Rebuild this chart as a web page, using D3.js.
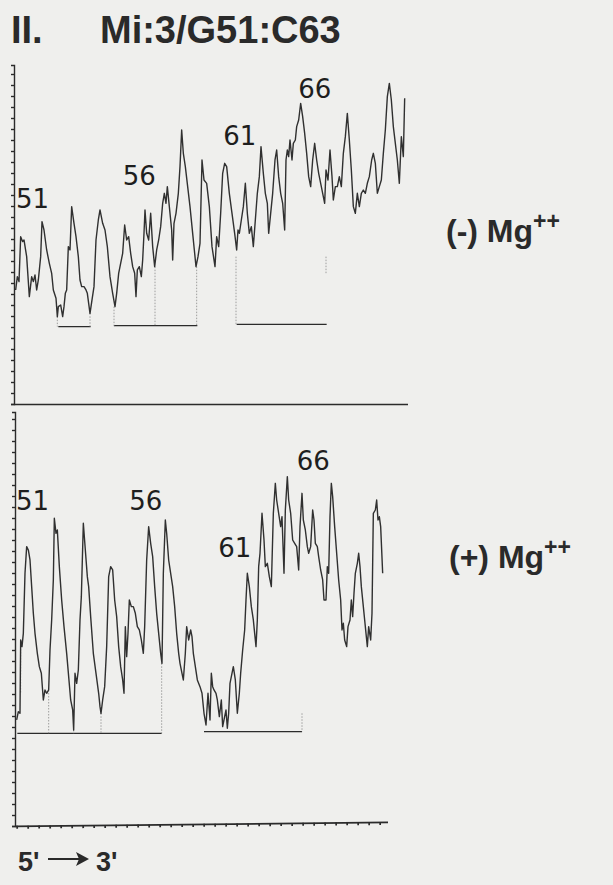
<!DOCTYPE html>
<html>
<head>
<meta charset="utf-8">
<script src="https://cdn.jsdelivr.net/npm/d3@7"></script>
<style>
  html, body { margin: 0; padding: 0; background: #efefed; }
  svg { display: block; }
</style>
</head>
<body>
<div id="chart"></div>
<script>
// densitometer scans, position along the gel (arbitrary units) vs. band density
const minusMg = [[47,310],[52,350],[57,335],[62,470],[68,455],[72,460],[80,410],[88,290],[95,350],[100,335],[105,355],[110,310],[115,340],[122,410],[126,515],[132,490],[140,430],[148,390],[155,360],[160,310],[168,285],[172,230],[175,260],[182,265],[188,230],[192,260],[196,300],[200,310],[205,440],[210,430],[215,560],[222,510],[228,470],[235,410],[240,340],[245,320],[252,320],[258,310],[262,300],[270,240],[276,280],[282,320],[288,460],[295,520],[300,550],[308,510],[315,490],[322,440],[330,350],[338,300],[345,260],[350,300],[356,360],[360,380],[368,420],[374,505],[380,460],[386,470],[392,420],[398,380],[404,360],[408,290],[412,370],[418,380],[424,350],[428,400],[432,480],[435,550],[440,480],[446,460],[452,540],[458,440],[464,380],[470,430],[476,460],[482,500],[488,570],[493,600],[498,570],[502,620],[508,560],[515,490],[518,400],[522,510],[528,540],[535,600],[540,680],[545,790],[550,720],[556,680],[563,620],[570,560],[578,480],[583,430],[588,380],[594,410],[600,450],[606,700],[612,640],[620,630],[628,560],[636,440],[645,380],[650,470],[656,440],[662,540],[668,660],[674,690],[680,680],[688,600],[696,540],[704,480],[710,430],[714,490],[718,480],[724,520],[730,560],[736,630],[742,540],[748,480],[754,500],[760,440],[766,520],[772,600],[778,650],[783,740],[790,660],[796,600],[802,570],[806,480],[812,540],[818,600],[825,700],[830,730],[836,650],[842,600],[848,570],[854,490],[858,700],[862,730],[866,710],[870,760],[876,700],[880,750],[886,760],[890,800],[896,820],[902,870],[908,830],[914,780],[920,720],[926,650],[932,620],[938,700],[944,750],[950,700],[956,660],[962,630],[968,600],[974,570],[978,670],[984,640],[990,730],[996,650],[1000,580],[1006,620],[1012,620],[1018,650],[1024,620],[1030,720],[1036,770],[1042,840],[1048,760],[1054,670],[1060,560],[1066,540],[1072,600],[1078,560],[1084,600],[1090,610],[1096,600],[1102,630],[1108,650],[1115,700],[1120,720],[1126,690],[1132,600],[1138,620],[1144,640],[1150,720],[1156,790],[1162,890],[1168,930],[1174,880],[1180,800],[1186,750],[1192,700],[1198,630],[1204,770],[1210,710],[1214,885]];

const plusMg = [[50,40],[55,65],[60,60],[62,280],[66,260],[70,300],[75,480],[80,560],[85,550],[90,520],[95,440],[100,360],[105,300],[112,240],[118,200],[124,180],[130,100],[135,130],[140,120],[146,130],[150,250],[155,340],[160,460],[163,645],[168,600],[172,610],[178,500],[185,400],[192,320],[200,240],[206,170],[212,100],[218,70],[221,10],[225,180],[230,150],[235,190],[240,340],[244,410],[250,630],[256,550],[262,470],[266,440],[272,350],[280,240],[288,180],[296,120],[300,80],[303,60],[308,100],[314,140],[320,260],[326,470],[332,500],[338,490],[344,400],[350,350],[356,260],[362,200],[368,160],[372,120],[376,320],[380,230],[384,300],[388,400],[394,380],[400,380],[406,360],[412,320],[418,310],[424,280],[430,240],[434,320],[440,520],[446,620],[452,570],[458,530],[464,440],[470,360],[476,300],[482,240],[486,210],[490,480],[496,640],[500,600],[506,520],[512,480],[518,440],[524,380],[530,300],[536,240],[540,210],[546,180],[550,160],[556,240],[560,320],[566,280],[572,310],[576,290],[580,240],[586,200],[592,160],[600,140],[606,120],[612,60],[618,25],[624,120],[630,40],[634,180],[638,140],[642,130],[648,120],[652,100],[658,50],[664,100],[668,20],[672,40],[678,70],[682,15],[686,60],[690,150],[694,170],[700,200],[706,160],[712,60],[718,120],[722,180],[728,250],[734,310],[738,400],[742,480],[748,440],[754,380],[760,340],[764,300],[768,260],[772,340],[776,500],[780,540],[786,660],[792,580],[796,500],[802,510],[808,470],[814,440],[820,660],[826,750],[830,700],[836,660],[842,620],[846,650],[852,480],[856,670],[862,770],[866,700],[872,660],[878,580],[884,570],[890,560],[896,490],[900,620],[906,720],[910,640],[916,610],[922,560],[926,540],[932,560],[938,670],[942,640],[946,570],[952,560],[956,530],[962,490],[968,460],[972,400],[978,400],[982,500],[986,480],[990,650],[994,750],[998,710],[1004,620],[1010,540],[1016,460],[1022,400],[1026,310],[1030,330],[1034,280],[1040,260],[1044,320],[1050,340],[1054,400],[1058,350],[1062,420],[1066,480],[1072,510],[1076,540],[1080,500],[1084,440],[1090,380],[1094,340],[1098,300],[1102,260],[1106,320],[1112,280],[1116,360],[1120,660],[1126,670],[1130,700],[1134,640],[1138,650],[1142,620],[1148,480]];

// baselines under the band groups: [from, to, density]
const minusBase = [[175,272,200],[342,592,203],[710,980,207]];
const plusBase = [[52,485,0],[612,906,5]];

// dotted drop lines: [position, from density, to density]
const minusDrops = [[172,230,200],[270,240,200],[342,260,200],[465,380,200],[590,380,203],[708,410,207],[978,410,360]];
const plusDrops = [[62,280,120],[146,130,0],[221,10,0],[303,60,0],[485,210,0],[906,60,5]];

// nucleotide labels: [text, position, density]
const minusLabels = [["51",48,555],["56",368,625],["61",670,745],["66",895,885]];
const plusLabels = [["51",48,670],["56",388,670],["61",655,530],["66",890,790]];

const width = 613, height = 885;
const svg = d3.select("#chart").append("svg")
  .attr("width", width).attr("height", height);

svg.append("rect").attr("width", width).attr("height", height).attr("fill", "#efefed");

const x = d3.scaleLinear().domain([0, 1230]).range([0, 410]);
const yTop = d3.scaleLinear().domain([0, 1000]).range([393.3, 60]);
const yLow = d3.scaleLinear().domain([0, 1000]).range([733.3, 400]);

const ink = "#2b2b2b";

function panel(data, base, drops, labels, y, frame) {
  const g = svg.append("g");

  // frame axes
  const ya = d3.scaleLinear().domain([0, 1]).range([frame.bottom, frame.top]);
  const left = g.append("g").attr("transform", `translate(${frame.left},0)`)
    .call(d3.axisLeft(ya).tickValues(d3.range(0, 1.0001, 11 / (frame.bottom - frame.top))).tickSize(3).tickFormat(""));
  left.selectAll("path, line").attr("stroke", ink).attr("stroke-width", 1.4);

  const bottom = g.append("g").attr("transform", `translate(0,${frame.bottom}) rotate(${frame.tilt})`)
    .call(d3.axisBottom(x).tickValues(frame.ticks ? d3.range(50, frame.right * 3, 33) : []).tickSize(3).tickSizeOuter(0).tickFormat(""));
  bottom.select(".domain").attr("d", `M${frame.left},0.5H${frame.right}`);
  bottom.selectAll("path, line").attr("stroke", ink).attr("stroke-width", 1.7);

  g.selectAll(".base").data(base).enter().append("line")
    .attr("x1", d => x(d[0])).attr("x2", d => x(d[1]))
    .attr("y1", d => y(d[2])).attr("y2", d => y(d[2]))
    .attr("stroke", ink).attr("stroke-width", 1.3);

  g.selectAll(".drop").data(drops).enter().append("line")
    .attr("x1", d => x(d[0])).attr("x2", d => x(d[0]))
    .attr("y1", d => y(d[1])).attr("y2", d => y(d[2]))
    .attr("stroke", "#8a8a8a").attr("stroke-width", 0.8).attr("stroke-dasharray", "1.5,1.5");

  const line = d3.line().x(d => x(d[0])).y(d => y(d[1]));
  g.append("path").datum(data).attr("d", line)
    .attr("fill", "none").attr("stroke", "#303030").attr("stroke-width", 1.4)
    .attr("stroke-linejoin", "round");

  g.selectAll(".lab").data(labels).enter().append("text")
    .attr("x", d => x(d[1])).attr("y", d => y(d[2]))
    .attr("font-family", "DejaVu Sans, sans-serif").attr("font-size", 26)
    .attr("fill", "#1e1e1e").text(d => d[0]);
}

panel(minusMg, minusBase, minusDrops, minusLabels, yTop, {left: 14, top: 65, bottom: 404, right: 408, ticks: false, tilt: 0});
panel(plusMg, plusBase, plusDrops, plusLabels, yLow, {left: 15, top: 412, bottom: 826, right: 388, ticks: true, tilt: -0.6});

// titles and annotations
const bold = "Liberation Sans, Arial, Helvetica, sans-serif";
svg.append("text").attr("x", 11).attr("y", 43).attr("font-family", bold).attr("font-weight", "bold")
  .attr("font-size", 38).attr("fill", "#2a2a2a").text("II.");
svg.append("text").attr("x", 100).attr("y", 43).attr("font-family", bold).attr("font-weight", "bold")
  .attr("font-size", 38).attr("fill", "#2a2a2a").text("Mi:3/G51:C63");

function mg(sign, xx, yy) {
  const t = svg.append("text").attr("x", xx).attr("y", yy).attr("font-family", bold)
    .attr("font-weight", "bold").attr("font-size", 32).attr("fill", "#2a2a2a");
  t.append("tspan").text(`(${sign}) Mg`);
  t.append("tspan").attr("dy", -13).attr("font-size", 23).text("++");
}
mg("-", 446, 242);
mg("+", 449, 568);

svg.append("text").attr("x", 18).attr("y", 871).attr("font-family", bold).attr("font-weight", "bold")
  .attr("font-size", 27).attr("fill", "#2a2a2a").text("5'");
svg.append("line").attr("x1", 48).attr("x2", 82).attr("y1", 859).attr("y2", 859)
  .attr("stroke", "#2a2a2a").attr("stroke-width", 2);
svg.append("path").attr("d", "M76,852 L89,859 L76,866 L79,859 Z").attr("fill", "#2a2a2a");
svg.append("text").attr("x", 96).attr("y", 871).attr("font-family", bold).attr("font-weight", "bold")
  .attr("font-size", 27).attr("fill", "#2a2a2a").text("3'");
</script>
</body>
</html>
